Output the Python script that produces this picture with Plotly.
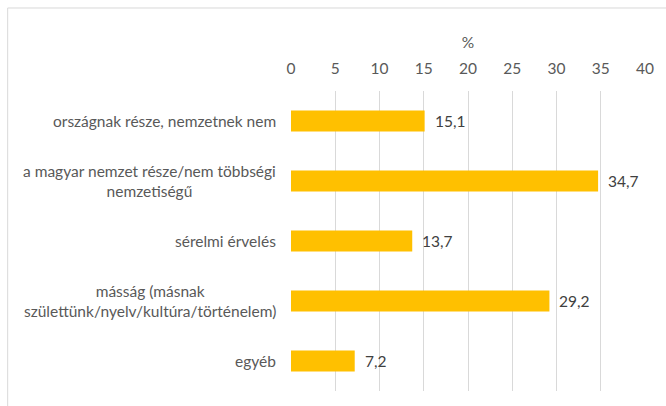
import plotly.graph_objects as go

categories = [
    "országnak része, nemzetnek nem",
    "a magyar nemzet része/nem többségi<br>nemzetiségű",
    "sérelmi érvelés",
    "másság (másnak<br>születtünk/nyelv/kultúra/történelem)",
    "egyéb",
]
values = [15.1, 34.7, 13.7, 29.2, 7.2]
x_ticks = [0, 5, 10, 15, 20, 25, 30, 35, 40]

FONT = "Lato"
GRAY = "#595959"
FS = 15.5

fig = go.Figure()
fig.add_trace(go.Bar(
    x=values, y=list(range(len(categories))), orientation="h",
    marker=dict(color="#FFC000", line=dict(width=0)),
    width=0.35, hoverinfo="skip",
))

ann = []
for i, (c, v) in enumerate(zip(categories, values)):
    ann.append(dict(x=0, y=i, xref="paper", yref="y", text=c, showarrow=False,
                    xanchor="right", yanchor="middle", align="center", xshift=-13,
                    font=dict(family=FONT, size=FS, color=GRAY)))
    ann.append(dict(x=v, y=i, xref="x", yref="y", text=f"{v:.1f}".replace(".", ","),
                    showarrow=False, xanchor="left", yanchor="middle", xshift=8,
                    font=dict(family=FONT, size=FS, color="#404040")))

fig.update_layout(
    width=666, height=406,
    margin=dict(l=291, r=18, t=91, b=15),
    paper_bgcolor="white", plot_bgcolor="white",
    showlegend=False,
    annotations=ann,
    xaxis=dict(side="top", range=[0, 40], tickvals=x_ticks,
               showgrid=True, gridcolor="#D9D9D9", gridwidth=1,
               zeroline=False, showline=False,
               ticks="outside", ticklen=10, tickcolor="rgba(0,0,0,0)",
               tickfont=dict(family=FONT, size=FS, color=GRAY),
               title=dict(text="%", font=dict(family=FONT, size=FS, color=GRAY), standoff=6),
               fixedrange=True),
    yaxis=dict(range=[4.5, -0.5], showticklabels=False, showgrid=False,
               zeroline=False, showline=False, ticks="", fixedrange=True),
    shapes=[dict(type="rect", xref="paper", yref="paper",
                 x0=-0.8004, x1=2, y0=-1, y1=1.2767,
                 line=dict(color="#D9D9D9", width=1), fillcolor="rgba(0,0,0,0)", layer="below")],
)

fig.write_html("out.html", config={"displayModeBar": False},
               post_script="document.body.style.margin='0';document.body.style.overflow='hidden';")
